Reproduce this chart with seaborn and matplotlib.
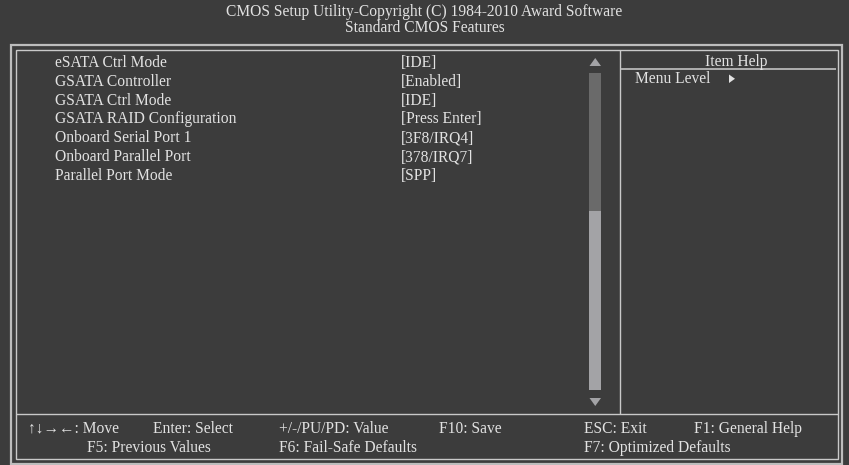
import matplotlib
matplotlib.use("Agg")
import matplotlib.pyplot as plt
import matplotlib.patches as mpatches
import seaborn as sns

# screen contents
title_lines = ["CMOS Setup Utility-Copyright (C) 1984-2010 Award Software",
               "Standard CMOS Features"]
items = ["eSATA Ctrl Mode", "GSATA Controller", "GSATA Ctrl Mode",
         "GSATA RAID Configuration", "Onboard Serial Port 1",
         "Onboard Parallel Port", "Parallel Port Mode"]
values = ["[IDE]", "[Enabled]", "[IDE]", "[Press Enter]", "[3F8/IRQ4]",
          "[378/IRQ7]", "[SPP]"]
help_title = "Item Help"
help_text = "Menu Level"
footer_row1 = ["\u2191\u2193\u2192\u2190: Move", "Enter: Select", "+/-/PU/PD: Value",
               "F10: Save", "ESC: Exit", "F1: General Help"]
footer_row2 = ["F5: Previous Values", "F6: Fail-Safe Defaults", "F7: Optimized Defaults"]

BG = "#3c3c3c"
FG = "#e2e2e2"
LINE = "#c9c9c9"

sns.set_theme(style="dark", rc={"axes.facecolor": BG, "figure.facecolor": BG})
plt.rcParams["font.family"] = ["Liberation Serif", "DejaVu Serif"]

fig = plt.figure(figsize=(8.49, 4.65), dpi=100)
ax = fig.add_axes([0, 0, 1, 1])
ax.set_xlim(0, 849)
ax.set_ylim(465, 0)
ax.axis("off")

fs = 11.2

# title
ax.text(424.5, 16.5, title_lines[0], color=FG, fontsize=fs, ha="center", va="baseline")
ax.text(424.5, 32.5, title_lines[1], color=FG, fontsize=fs, ha="center", va="baseline")

# frames
def hline(y, x0, x1, lw=1.0, c=LINE):
    ax.plot([x0, x1], [y, y], color=c, lw=lw, solid_capstyle="butt")

def vline(x, y0, y1, lw=1.0, c=LINE):
    ax.plot([x, x], [y0, y1], color=c, lw=lw, solid_capstyle="butt")

# outer double border
ax.add_patch(mpatches.Rectangle((11.5, 45.5), 831, 418, fill=False, ec="#bdbdbd", lw=1.6))
ax.add_patch(mpatches.Rectangle((16, 50), 822, 409, fill=False, ec=LINE, lw=1.0))
# separators
hline(413.7, 16, 838)
vline(620, 50, 413.7)
hline(69.3, 621, 836, lw=1.4, c="#b0b0b0")

# items and values
for i, (name, val) in enumerate(zip(items, values)):
    y = 67 + i * 18.8
    ax.text(55, y, name, color=FG, fontsize=fs, ha="left", va="baseline")
    ax.text(401, y, val, color=FG, fontsize=fs, ha="left", va="baseline")

# scrollbar
ax.add_patch(mpatches.Rectangle((589.5, 72.7), 11.5, 138.3, color="#6a6a6a", lw=0))
ax.add_patch(mpatches.Rectangle((589.5, 211), 11.5, 179, color="#a3a3a6", lw=0))
ax.add_patch(mpatches.Polygon([[589.5, 66], [601, 66], [595.25, 58]], closed=True,
                              color="#a3a3a6", lw=0))
ax.add_patch(mpatches.Polygon([[589.5, 398], [601, 398], [595.25, 406]], closed=True,
                              color="#a3a3a6", lw=0))

# help panel
ax.text(736.5, 66, help_title, color=FG, fontsize=fs, ha="center", va="baseline")
ax.text(635, 83, help_text, color=FG, fontsize=fs, ha="left", va="baseline")
ax.add_patch(mpatches.Polygon([[729, 74.5], [729, 83], [735, 78.75]], closed=True,
                              color=FG, lw=0))

# footer
row1_x = [28, 153, 279, 439, 584, 694]
row2_x = [87, 279, 584]
for x, t in zip(row1_x, footer_row1):
    ax.text(x, 433, t, color=FG, fontsize=fs, ha="left", va="baseline",
            family=["Liberation Serif", "DejaVu Sans"])
for x, t in zip(row2_x, footer_row2):
    ax.text(x, 452, t, color=FG, fontsize=fs, ha="left", va="baseline")

fig.savefig("out.png", dpi=100, facecolor=BG)
